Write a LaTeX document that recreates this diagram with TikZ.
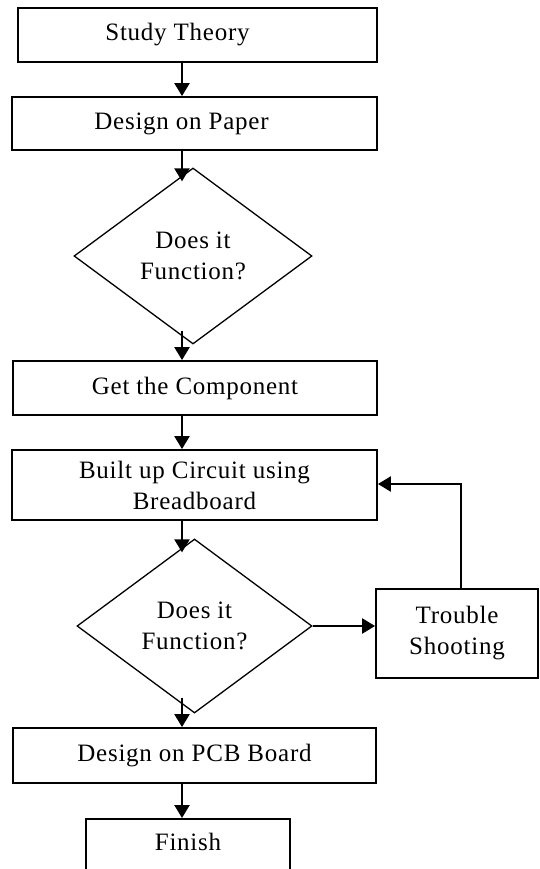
\documentclass[tikz,border=0pt]{standalone}
\usepackage{fontspec}
\setmainfont[LetterSpace=3]{Liberation Serif}
\usetikzlibrary{shapes.geometric,arrows.meta}

\begin{document}
\begin{tikzpicture}[x=1pt,y=-1pt,
  every node/.style={font=\fontsize{25}{31}\selectfont, text=black},
  stepbox/.style={draw=black, line width=1.8pt, rectangle, inner sep=0pt, align=center},
  decision/.style={draw=black, line width=1.3pt, diamond, aspect=1.35, inner sep=0pt, align=center},
  arr/.style={draw=black, line width=2.3pt, -{Triangle[width=15pt,length=13pt]}}
]
\clip (0,0) rectangle (540,869);
\fill[white] (0,0) rectangle (540,869);

% column of the vertical connectors
\coordinate (ax) at (182,0);
% corner of the feedback loop
\coordinate (fb) at (461,484);

\node[stepbox, minimum width=359, minimum height=54] (b1) at (197.5,35) {\hspace*{-40pt}Study Theory};
\node[stepbox, minimum width=365, minimum height=53] (b2) at (194.5,123.5) {\hspace*{-26pt}Design on Paper};
\node[decision, minimum width=238, minimum height=176] (d1) at (193,256) {Does it\\Function?};
\node[stepbox, minimum width=364, minimum height=54] (b3) at (195,388) {Get the Component};
\node[stepbox, minimum width=365, minimum height=70] (b4) at (194.5,485) {Built up Circuit using\\Breadboard};
\node[decision, minimum width=235, minimum height=174] (d2) at (194.5,626) {Does it\\Function?};
\node[stepbox, minimum width=162, minimum height=89] (tr) at (457,633.5) {Trouble\\Shooting};
\node[stepbox, minimum width=363, minimum height=55] (b5) at (194.5,755.5) {Design on PCB Board};
\node[stepbox, minimum width=204, anchor=north, inner ysep=10pt,
      text height=22pt, text depth=40pt] (fin) at (188,818) {Finish};

\draw[arr] (b1.south -| ax) -- (b2.north -| ax);
\draw[arr] (b2.south -| ax) -- ([yshift=-14pt]d1.north -| ax);
\draw[arr] ([yshift=14pt]d1.south -| ax) -- (b3.north -| ax);
\draw[arr] (b3.south -| ax) -- (b4.north -| ax);
\draw[arr] (b4.south -| ax) -- ([yshift=-14pt]d2.north -| ax);
\draw[arr] ([yshift=16pt]d2.south -| ax) -- (b5.north -| ax);
\draw[arr] (b5.south -| ax) -- (fin.north -| ax);
\draw[arr] (d2.east) -- (d2.east -| tr.west);
\draw[arr] (tr.north -| fb) -- (fb) -- (b4.east |- fb);
\end{tikzpicture}
\end{document}
